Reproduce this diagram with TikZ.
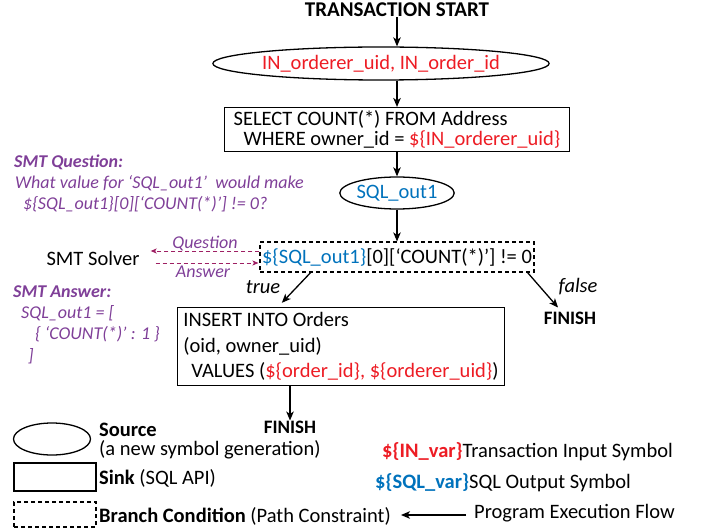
\documentclass[tikz,border=0pt]{standalone}
\usepackage{fontspec}
\setmainfont{Carlito}
\usetikzlibrary{arrows.meta,shapes.geometric,calc}
\definecolor{inred}{HTML}{ED1C24}
\definecolor{sqlblue}{HTML}{0072BC}
\definecolor{smtpurple}{HTML}{7F3F98}
\definecolor{qamag}{HTML}{9E1F63}
\newcommand{\inv}[1]{\textcolor{inred}{#1}}
\newcommand{\sqv}[1]{\textcolor{sqlblue}{#1}}
\tikzset{
  txt/.style={font=\fontsize{20.5}{24}\selectfont, inner sep=0pt},
  smt/.style={font=\fontsize{18}{21}\selectfont\itshape, text=smtpurple, inner sep=0pt, anchor=west},
  src/.style={draw, ellipse, line width=1.3pt, inner sep=0pt},
  sink/.style={draw, rectangle, line width=1.3pt},
  branch/.style={draw, rectangle, dashed, dash pattern=on 4pt off 3pt, line width=1.1pt},
  flow/.style={-{Stealth[length=9pt,width=7.5pt,inset=2.5pt]}, line width=1.3pt},
  qa/.style={-{Stealth[length=6pt,width=5pt,inset=1.5pt]}, draw=qamag, dashed, dash pattern=on 4pt off 3pt, line width=1pt},
  fin/.style={font=\fontsize{19}{22}\selectfont\bfseries, inner sep=0pt}
}
\begin{document}
\begin{tikzpicture}[x=1pt,y=-1pt]
\useasboundingbox (0,0) rectangle (711,529);

% main flow
\node[fin, font=\fontsize{21}{24}\selectfont\bfseries] (start) at (397,10) {TRANSACTION START};
\node[src, txt, minimum width=307, minimum height=33] (in1) at (381,63.5) {\inv{IN\_orderer\_uid, IN\_order\_id}};
\node[sink, txt, align=left, inner xsep=9pt, inner ysep=3pt, font=\fontsize{20.5}{20}\selectfont] (sel) at (397,129.5)
  {SELECT COUNT(*) FROM Address\\\hspace*{10pt}WHERE owner\_id = \inv{\$\{IN\_orderer\_uid\}}};
\node[src, txt, minimum width=110, minimum height=32] (out1) at (397,193) {\sqv{SQL\_out1}};
\node[branch, txt, minimum width=274, minimum height=30] (cond) at (397,257)
  {\sqv{\$\{SQL\_out1\}}[0][‘COUNT(*)’] != 0};
\node[sink, txt, align=left, inner xsep=6pt, inner ysep=5pt, font=\fontsize{20.5}{25.5}\selectfont] (ins) at (341,346.5)
  {INSERT INTO Orders\\(oid, owner\_uid)\\\hspace*{8pt}VALUES (\inv{\$\{order\_id\}, \$\{orderer\_uid\}})};
\node[fin] (fin1) at (290,427) {FINISH};
\node[fin] (fin2) at (570,318) {FINISH};
\node[txt, font=\fontsize{20.5}{24}\selectfont\itshape] (tl) at (263,287) {true};
\node[txt, font=\fontsize{20.5}{24}\selectfont\itshape] (fl) at (578,287) {false};

\draw[flow] (start.south) -- (start.south |- in1.north);
\draw[flow] (sel.north |- in1.south) -- (sel.north);
\draw[flow] (sel.south) -- (out1.north);
\draw[flow] (out1.south) -- (cond.north);
\draw[flow] ($(cond.south west)!0.186!(cond.south east)$) -- ($(ins.north west)!0.32!(ins.north east)+(0,-4)$);
\draw[flow] ($(cond.south east)+(-7,0)$) -- ($(fin2.north)+(-12,-4)$);
\draw[flow] (fin1.north |- ins.south) -- (fin1.north);

% SMT solver
\node[txt] (solver) at (93,258) {SMT Solver};
\draw[qa] ($(cond.west)+(0,-6)$) -- ($(solver.east)+(11,-7)$);
\draw[qa] ($(solver.east)+(16,5)$) -- ($(cond.west)+(-1,6)$);
\node[smt, anchor=center] (ql) at (205,243) {Question};
\node[smt, anchor=center] (al) at (203,272) {Answer};

\node[smt, font=\fontsize{18}{21}\selectfont\bfseries\itshape] (sq) at (14,162) {SMT Question:};
\node[smt] (sq1) at (15,183) {What value for ‘SQL\_out1’\ \ would make};
\node[smt] (sq2) at (23,204) {\$\{SQL\_out1\}[0][‘COUNT(*)’] != 0?};
\node[smt, font=\fontsize{18}{21}\selectfont\bfseries\itshape] (sa) at (13,292) {SMT Answer:};
\node[smt] (sa1) at (21,313) {SQL\_out1 = [};
\node[smt] (sa2) at (35,334) {\{ ‘COUNT(*)’ : 1 \}};
\node[smt] (sa3) at (28,356) {]};

% legend
\node[src, minimum width=77, minimum height=32] (lsrc) at (52,439) {};
\node[sink, minimum width=82, minimum height=28, inner sep=0pt] (lsink) at (55,477) {};
\node[branch, minimum width=82, minimum height=25, inner sep=0pt] (lbr) at (55,514.5) {};
\node[txt, anchor=west, align=left, font=\fontsize{20.5}{18.5}\selectfont] (lsrct) at (99,441) {\textbf{Source}\\(a new symbol generation)};
\node[txt, anchor=west] (lsinkt) at (99,478) {\textbf{Sink} (SQL API)};
\node[txt, anchor=west] (lbrt) at (99,516) {\textbf{Branch Condition} (Path Constraint)};
\node[txt, anchor=west] (linv) at (382,452) {\textbf{\inv{\$\{IN\_var\}}}Transaction Input Symbol};
\node[txt, anchor=west] (lsqv) at (375,483) {\textbf{\sqv{\$\{SQL\_var\}}}SQL Output Symbol};
\node[txt, anchor=west] (pef) at (474,513) {Program Execution Flow};
\draw[flow] ($(pef.west)+(-8,2)$) -- ($(lbrt.east)+(10,-1)$);
\end{tikzpicture}
\end{document}
